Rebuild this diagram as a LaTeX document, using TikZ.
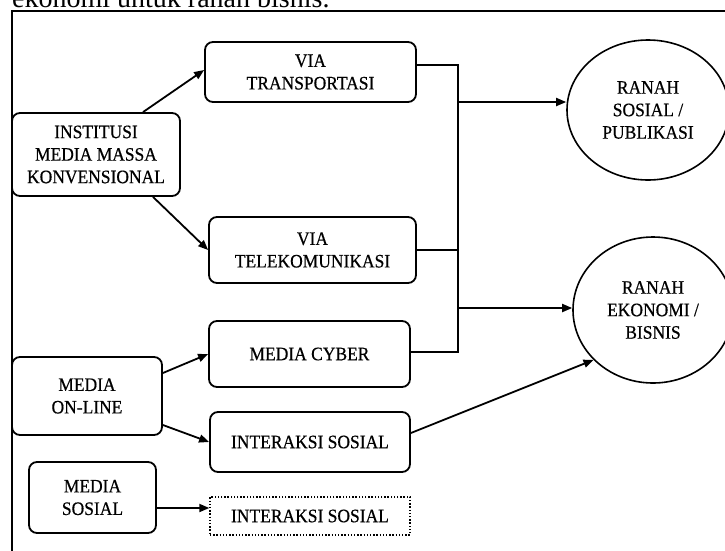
\documentclass[tikz,border=0pt]{standalone}
\usepackage{fontspec}
\setmainfont{Liberation Serif}
\newfontfamily\boxfont{Liberation Serif}[FakeStretch=0.92,FakeBold=0.5]
\usetikzlibrary{arrows.meta,shapes.geometric}
\begin{document}
\begin{tikzpicture}[x=1pt,y=-1pt,
  txt/.style={font=\boxfont\fontsize{19}{22.5}\selectfont},
  box/.style={draw, rounded corners=8pt, line width=1.8pt, align=center, inner sep=0pt, txt},
  dotbox/.style={draw, line width=1.4pt, dash pattern=on 1.4pt off 1.8pt, align=center, inner sep=0pt, txt},
  ell/.style={draw, ellipse, line width=1.6pt, align=center, inner sep=0pt, txt},
  conn/.style={line width=1.8pt},
  arr/.style={line width=1.8pt, -{Triangle[length=10pt,width=8pt]}},
  frame/.style={line width=2pt}]
\useasboundingbox (0,0) rectangle (725,550);
\clip (0,0) rectangle (725,550);
\fill[white] (0,0) rectangle (725,550);

% cut-off caption at the top
\node[anchor=base west, inner sep=0pt, font=\fontsize{28}{32}\selectfont] (cap) at (12,7) {ekonomi untuk ranah bisnis.};

% frame
\coordinate (fbl) at (12,560);
\coordinate (ftl) at (12,11);
\coordinate (ftr) at (740,11);
\draw[frame] (fbl) -- (ftl) -- (ftr);

% boxes
\node[box, minimum width=211pt, minimum height=60pt] (trans) at (310.5,72) {VIA\\TRANSPORTASI};
\node[box, minimum width=168pt, minimum height=83pt] (inst) at (96,154.5) {INSTITUSI\\MEDIA MASSA\\KONVENSIONAL};
\node[box, minimum width=207pt, minimum height=66pt] (tele) at (312.5,250) {VIA\\TELEKOMUNIKASI};
\node[box, minimum width=201pt, minimum height=66pt] (cyber) at (309.5,354) {MEDIA CYBER};
\node[box, minimum width=150pt, minimum height=78pt] (online) at (87,396) {MEDIA\\ON-LINE};
\node[box, minimum width=200pt, minimum height=60pt] (inter) at (310,442) {INTERAKSI SOSIAL};
\node[box, minimum width=127pt, minimum height=71pt] (sosial) at (92.5,497.5) {MEDIA\\SOSIAL};
\node[dotbox, minimum width=200pt, minimum height=38pt] (interd) at (310,516) {INTERAKSI SOSIAL};

% ellipses
\node[ell, minimum width=162pt, minimum height=140pt] (ell1) at (648,110) {RANAH\\SOSIAL /\\PUBLIKASI};
\node[ell, minimum width=160pt, minimum height=146pt] (ell2) at (653,310) {RANAH\\EKONOMI /\\BISNIS};

% left arrows
\draw[arr] ([xshift=47pt]inst.north) -- ([yshift=2pt]trans.west);
\draw[arr] ([xshift=57pt]inst.south) -- (tele.west);
\draw[arr] ([yshift=23pt]online.east) -- (cyber.west);
\draw[arr] ([yshift=-29pt]online.east) -- (inter.west);
\draw[arr] ([yshift=-10.5pt]sosial.east) -- ([yshift=8pt]interd.west);

% bus on the right
\coordinate (bt) at (458,65);
\coordinate (bb) at (458,352);
\coordinate (j1) at (458,102);
\coordinate (j2) at (458,308);
\draw[conn] ([yshift=7pt]trans.east) -- (bt) -- (bb) -- ([yshift=2pt]cyber.east);
\draw[conn] (tele.east) -- (tele.east -| bt);
\draw[arr] (j1) -- (j1 -| ell1.west);
\draw[arr] (j2) -- (j2 -| ell2.west);
\draw[arr] ([yshift=9pt]inter.east) -- (ell2.220);
\end{tikzpicture}
\end{document}
